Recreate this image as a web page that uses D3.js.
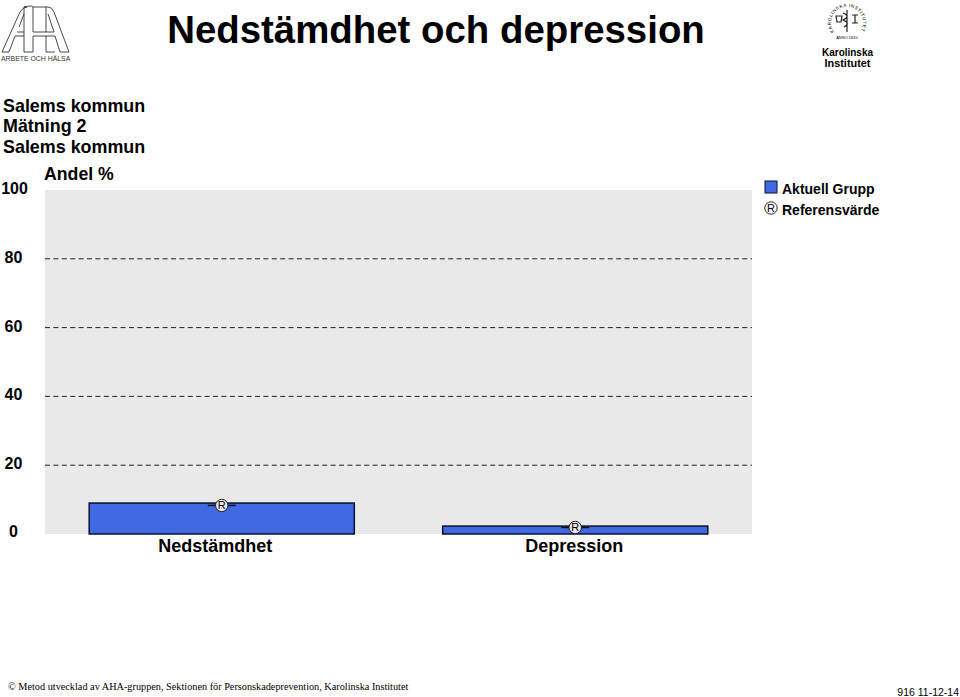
<!DOCTYPE html>
<html><head><meta charset="utf-8">
<script src="https://cdn.jsdelivr.net/npm/d3@7/dist/d3.min.js"></script>
<style>html,body{margin:0;padding:0;background:#fff}svg{display:block}text{font-family:"Liberation Sans",Arial,sans-serif;fill:#000}</style>
</head><body><svg id="c" width="960" height="697"></svg>
<script>
const categories = ["Nedstämdhet", "Depression"];
const groupValues = [9, 2.3];
const referenceValues = [8.3, 1.9];
const yTicks = [0, 20, 40, 60, 80, 100];
const headerLines = ["Salems kommun", "Mätning 2", "Salems kommun"];
const legendLabels = ["Aktuell Grupp", "Referensvärde"];

const svg = d3.select("#c");
const x = d3.scaleBand().domain(categories).range([45, 752]).paddingInner(0.25).paddingOuter(0.125);
const y = d3.scaleLinear().domain([0, 100]).range([534, 190]);
const BLUE = "#4169e1";

svg.append("rect").attr("x", 45).attr("y", y(100)).attr("width", 707).attr("height", y(0) - y(100)).attr("fill", "#e9e9e9");

svg.selectAll(".grid").data(yTicks.filter(d => d > 0 && d < 100)).join("line")
  .attr("x1", 45).attr("x2", 752).attr("y1", d => y(d)).attr("y2", d => y(d))
  .attr("stroke", "#222").attr("stroke-width", 1).attr("stroke-dasharray", "5 3.4");

svg.selectAll(".tick").data(yTicks).join("text")
  .attr("x", d => d === 100 ? 14.5 : 13.5).attr("y", d => y(d) + 4 - (d === 0 ? 1 : 0))
  .attr("text-anchor", "middle").attr("font-size", 16).attr("font-weight", "bold").text(d => d);

svg.append("text").attr("x", 44).attr("y", 180).attr("font-size", 17.7).attr("font-weight", "bold").text("Andel %");

svg.selectAll(".bar").data(categories).join("rect")
  .attr("x", d => x(d)).attr("width", x.bandwidth())
  .attr("y", (d, i) => y(groupValues[i])).attr("height", (d, i) => y(0) - y(groupValues[i]))
  .attr("fill", BLUE).attr("stroke", "#0b1030").attr("stroke-width", 1.5);

svg.selectAll(".cat").data(categories).join("text")
  .attr("x", (d, i) => x(d) + x.bandwidth() / 2 - (i === 0 ? 6.5 : 1))
  .attr("y", 552)
  .attr("text-anchor", "middle").attr("font-size", 18).attr("font-weight", "bold").text(d => d);

function refMark(g, cx, cy, tail) {
  if (tail) g.append("line").attr("x1", cx - 14).attr("x2", cx + 14).attr("y1", cy).attr("y2", cy).attr("stroke", "#111").attr("stroke-width", 1.5);
  g.append("circle").attr("cx", cx).attr("cy", cy).attr("r", 6.2).attr("fill", "#e9e9e9").attr("stroke", "#111").attr("stroke-width", 0.9);
  g.append("text").attr("x", cx).attr("y", cy + 4).attr("text-anchor", "middle").attr("font-size", 11).text("R");
}
categories.forEach((c, i) => refMark(svg.append("g"), x(c) + x.bandwidth() / 2, y(referenceValues[i]), true));

svg.append("text").attr("x", 436).attr("y", 43).attr("text-anchor", "middle").attr("font-size", 38.4).attr("font-weight", "bold").text("Nedstämdhet och depression");

svg.selectAll(".hdr").data(headerLines).join("text")
  .attr("x", 3).attr("y", (d, i) => 111.5 + i * 20.5).attr("font-size", 17.9).attr("font-weight", "bold").text(d => d);

svg.append("rect").attr("x", 765).attr("y", 181).attr("width", 12).attr("height", 12).attr("fill", BLUE).attr("stroke", "#0b1030").attr("stroke-width", 1);
const lg = svg.append("g");
lg.append("circle").attr("cx", 771).attr("cy", 208).attr("r", 6.2).attr("fill", "#fff").attr("stroke", "#111").attr("stroke-width", 0.9);
lg.append("text").attr("x", 771).attr("y", 212).attr("text-anchor", "middle").attr("font-size", 11).text("R");
svg.selectAll(".lgl").data(legendLabels).join("text")
  .attr("x", 782).attr("y", (d, i) => 194 + i * 20.5).attr("font-size", 14).attr("font-weight", "bold").text(d => d);

svg.append("text").attr("x", 8).attr("y", 690).style("font-family", '"Liberation Serif",serif').attr("font-size", 10.25).text("© Metod utvecklad av AHA-gruppen, Sektionen för Personskadeprevention, Karolinska Institutet");
svg.append("text").attr("x", 959).attr("y", 696).attr("text-anchor", "end").attr("font-size", 10.5).text("916 11-12-14");

// AHA logo
const aha = svg.append("g").attr("fill", "none").attr("stroke", "#333").attr("stroke-width", 0.9);
["M2,52 L20,12 Q23,7 27,7 L24,7 M2,52 L9,52 L15,36 L24,36 M17,32 L24,32 M19,27 L24,14",
 "M24,7 L24,52 L33,52 L33,36 L46,36 L46,52 L55,52",
 "M33,7 L33,32 L46,32 L46,7 L33,7 M46,7 L48,7 Q52,7 54,12 L69,52 L60,52 L55,36 L46,36 M46,32 L54,32 L48,14",
 "M24,7 Q33,5 33,7"].forEach(p => aha.append("path").attr("d", p));
svg.append("text").attr("x", 1).attr("y", 61).attr("font-size", 6.9).style("fill", "#333").text("ARBETE OCH HÄLSA");

// Karolinska logo
const ki = svg.append("g");
ki.append("defs").append("path").attr("id", "sealArc").attr("d", "M834,32 A16,16 0 1 1 860,32");
ki.append("text").attr("font-size", 4.6).attr("letter-spacing", 0.55).append("textPath").attr("href", "#sealArc").text("KAROLINSKA INSTITUTET");
ki.append("text").attr("x", 847).attr("y", 38.5).attr("text-anchor", "middle").attr("font-size", 4).text("ANNO 1810");
ki.append("path").attr("d", "M847,10 V32 M843,13 Q851,16 843,20 Q851,23 844,27 M836,16 h6 l-1,6 h-4 z M852,15 h6 M855,15 v8 M852,23 h6").attr("fill", "none").attr("stroke", "#222").attr("stroke-width", 1.2);
ki.append("text").attr("x", 847.5).attr("y", 55.5).attr("text-anchor", "middle").attr("font-size", 11.5).attr("font-weight", "bold").attr("textLength", 51).attr("lengthAdjust", "spacingAndGlyphs").text("Karolinska");
ki.append("text").attr("x", 847.5).attr("y", 66.5).attr("text-anchor", "middle").attr("font-size", 11.5).attr("font-weight", "bold").attr("textLength", 46).attr("lengthAdjust", "spacingAndGlyphs").text("Institutet");
</script></body></html>
